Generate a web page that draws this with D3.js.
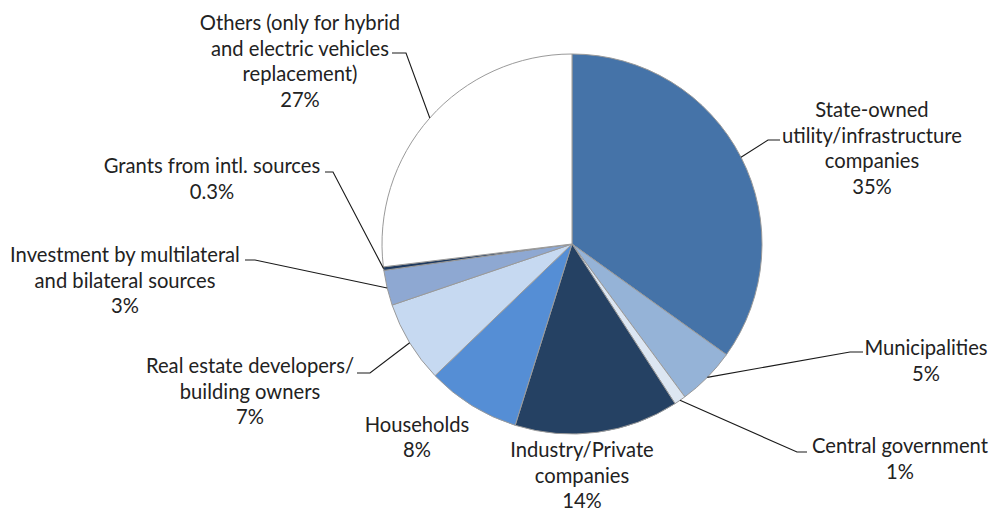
<!DOCTYPE html>
<html>
<head>
<meta charset="utf-8">
<script src="https://cdn.jsdelivr.net/npm/d3@7"></script>
<style>
  html, body { margin: 0; padding: 0; background: #fff; }
  svg { display: block; }
  text { font-family: Lato, "Open Sans", sans-serif; fill: #222; }
</style>
</head>
<body>
<svg id="chart" width="990" height="511"></svg>
<script>
// Funding sources (share of total, %)
const categories = [
  "State-owned utility/infrastructure companies",
  "Municipalities",
  "Central government",
  "Industry/Private companies",
  "Households",
  "Real estate developers/ building owners",
  "Investment by multilateral and bilateral sources",
  "Grants from intl. sources",
  "Others (only for hybrid and electric vehicles replacement)"
];
const labelLines = [
  ["State-owned", "utility/infrastructure", "companies"],
  ["Municipalities"],
  ["Central government"],
  ["Industry/Private", "companies"],
  ["Households"],
  ["Real estate developers/", "building owners"],
  ["Investment by multilateral", "and bilateral sources"],
  ["Grants from intl. sources"],
  ["Others (only for hybrid", "and electric vehicles", "replacement)"]
];
const values = [35, 5, 1, 14, 8, 7, 3, 0.3, 27];
const colors = ["#4573A8", "#95B3D7", "#DCE6F2", "#254163", "#558ED5",
                "#C6D9F1", "#8EA8D2", "#1F3A5F", "#FFFFFF"];

// Label placement: centre x, first baseline, optional leader (elbow + stub end)
const layout = [
  { x: 872, y: 117, elbow: [768, 140], stub: [780, 140] },
  { x: 926, y: 355, elbow: [850, 352], stub: [863, 352] },
  { x: 900, y: 453, elbow: [797, 452], stub: [807, 452] },
  { x: 582, y: 457 },
  { x: 417, y: 431.5 },
  { x: 250, y: 373, elbow: [370, 373], stub: [357, 373] },
  { x: 125, y: 262, elbow: [255, 260], stub: [245, 260] },
  { x: 212, y: 173, elbow: [333, 172], stub: [325, 172] },
  { x: 300, y: 30, elbow: [406, 53], stub: [392, 53] }
];

const width = 990, height = 511;
const cx = 572, cy = 244, R = 190;
const lineH = 25.5;

const svg = d3.select("#chart");
const g = svg.append("g").attr("transform", `translate(${cx},${cy})`);

const pie = d3.pie().sort(null).value(d => d.value);
const arcs = pie(values.map((v, i) => ({ value: v, i })));

const arc = d3.arc().innerRadius(0).outerRadius(R);
const rim = d3.arc().innerRadius(R).outerRadius(R);

g.selectAll("path.slice")
  .data(arcs)
  .join("path")
  .attr("class", "slice")
  .attr("d", arc)
  .attr("fill", d => colors[d.data.i])
  .attr("stroke", "#9a9a9a")
  .attr("stroke-width", 1)
  .attr("stroke-linejoin", "round");

// Leader lines from slice rim to label
arcs.forEach(d => {
  const L = layout[d.data.i];
  if (!L.elbow) return;
  const [ax, ay] = rim.centroid(d);
  const pts = [[ax + cx, ay + cy], L.elbow, L.stub];
  svg.append("path")
    .attr("d", d3.line()(pts))
    .attr("fill", "none")
    .attr("stroke", "#1a1a1a")
    .attr("stroke-width", 1.1);
});

// Labels: category lines + percentage
const fmt = v => `${v}%`;
arcs.forEach(d => {
  const i = d.data.i;
  const L = layout[i];
  const lines = labelLines[i].concat([fmt(values[i])]);
  const t = svg.append("text")
    .attr("text-anchor", "middle")
    .attr("font-size", 20.2);
  lines.forEach((s, k) => {
    t.append("tspan")
      .attr("x", L.x)
      .attr("y", L.y + k * lineH)
      .text(s);
  });
});
</script>
</body>
</html>
